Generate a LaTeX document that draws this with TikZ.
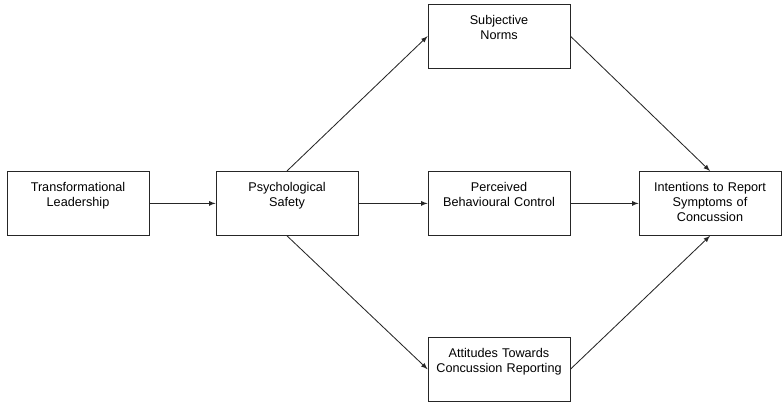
\documentclass[tikz,border=0pt]{standalone}
\usepackage{fontspec}
\setmainfont{Liberation Sans}
\usetikzlibrary{arrows}
\tikzstyle{arrow} = [->,>=latex,line width=0.6pt,draw=black!85]
\tikzset{
 box/.style
  = {rectangle, draw=black!85, line width=0.6pt, inner sep=0pt,
     text width=3.4cm, minimum width=3.55cm, text height=0.5cm,
     text depth=1.1cm, text centered, font=\fontsize{9}{10.7}\selectfont},
}
\begin{document}
\begin{tikzpicture}[x=0.025cm, y=-0.025cm]
\useasboundingbox (0,0) rectangle (784,408);

% Leadership and safety
\node[box] (TL) at (78,203.4) {Transformational\\Leadership};
\node[box] (PS) at (287,203.4) {Psychological\\Safety};

% Mediators
\node[box] (SN) at (499,36.2) {Subjective\\Norms};
\node[box] (PBC) at (499,203.4) {Perceived\\Behavioural Control};
\node[box] (ATR) at (499,369.2) {Attitudes Towards\\Concussion Reporting};

% Outcome
\node[box] (IRS) at (710,203.4) {Intentions to Report\\Symptoms of\\Concussion};

% Paths
\draw[arrow] (TL) -- (PS);
\draw[arrow] (PS.north) -- (SN.west);
\draw[arrow] (PS) -- (PBC);
\draw[arrow] (PS.south) -- (ATR.west);
\draw[arrow] (SN.east) -- (IRS.north);
\draw[arrow] (PBC) -- (IRS);
\draw[arrow] (ATR.east) -- (IRS.south);

\end{tikzpicture}
\end{document}
